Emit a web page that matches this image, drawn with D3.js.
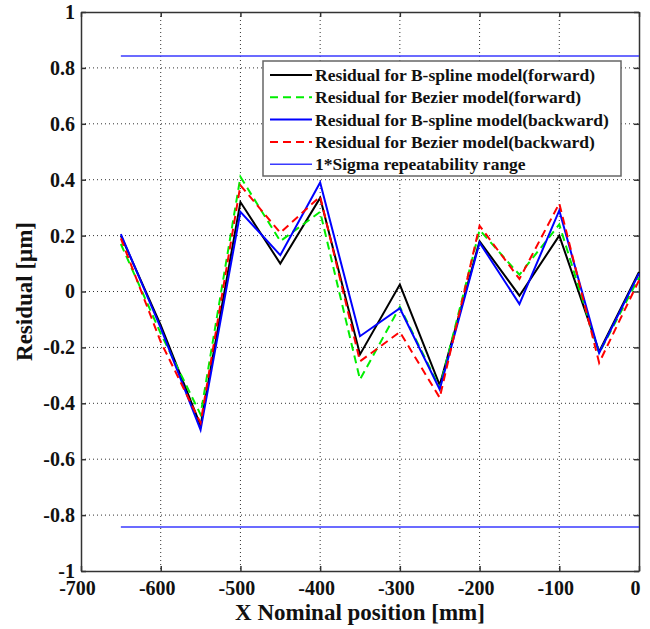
<!DOCTYPE html>
<html>
<head>
<meta charset="utf-8">
<script src="https://cdn.jsdelivr.net/npm/d3@7"></script>
<style>
    body { margin: 0; background: #fff; }
    text { font-family: "Liberation Serif", "DejaVu Serif", serif; font-weight: bold; fill: #111; }
</style>
</head>
<body>
<div id="chart"></div>
<script>
// Data
var xPositions = [-650, -600, -550, -500, -450, -400, -350, -300, -250, -200, -150, -100, -50, 0];
var bsplineForward = [0.20, -0.12, -0.48, 0.32, 0.10, 0.335, -0.225, 0.025, -0.335, 0.18, -0.015, 0.20, -0.215, 0.07];
var bezierForward = [0.17, -0.15, -0.44, 0.41, 0.18, 0.285, -0.315, -0.055, -0.345, 0.22, 0.06, 0.24, -0.22, 0.05];
var bsplineBackward = [0.205, -0.13, -0.495, 0.285, 0.13, 0.39, -0.16, -0.06, -0.35, 0.175, -0.045, 0.29, -0.22, 0.065];
var bezierBackward = [0.19, -0.18, -0.47, 0.38, 0.21, 0.34, -0.25, -0.145, -0.38, 0.235, 0.045, 0.315, -0.255, 0.04];
var sigmaRange = [-0.843, 0.843];
var sigmaX = [-650, 0];
var xTicks = [-700, -600, -500, -400, -300, -200, -100, 0];
var yTicks = [-1, -0.8, -0.6, -0.4, -0.2, 0, 0.2, 0.4, 0.6, 0.8, 1];
var legendLabels = [
    "Residual for B-spline model(forward)",
    "Residual for Bezier model(forward)",
    "Residual for B-spline model(backward)",
    "Residual for Bezier model(backward)",
    "1*Sigma repeatability range"
];

// Size and margins
var width = 650, height = 629;
var margin = { top: 12, right: 11, bottom: 58, left: 81 };
var plotW = width - margin.left - margin.right;
var plotH = height - margin.top - margin.bottom;

var svg = d3.select("#chart").append("svg")
    .attr("width", width)
    .attr("height", height);
var g = svg.append("g")
    .attr("transform", "translate(" + margin.left + "," + margin.top + ")");

// Scales
var x = d3.scaleLinear().domain([-700, 0]).range([0, plotW]);
var y = d3.scaleLinear().domain([-1, 1]).range([plotH, 0]);

// Dotted grid
g.append("g").selectAll("line")
    .data(xTicks.slice(1, -1))
    .enter().append("line")
    .attr("x1", function(d) { return x(d); })
    .attr("x2", function(d) { return x(d); })
    .attr("y1", 0).attr("y2", plotH)
    .attr("stroke", "#333").attr("stroke-width", 1)
    .attr("stroke-dasharray", "1,3");
g.append("g").selectAll("line")
    .data(yTicks.slice(1, -1))
    .enter().append("line")
    .attr("y1", function(d) { return y(d); })
    .attr("y2", function(d) { return y(d); })
    .attr("x1", 0).attr("x2", plotW)
    .attr("stroke", "#333").attr("stroke-width", 1)
    .attr("stroke-dasharray", "1,3");

// Axes (ticks inward, box on)
var fmt = function(d) { return String(d); };
var axB = g.append("g").attr("transform", "translate(0," + plotH + ")")
    .call(d3.axisBottom(x).tickValues(xTicks).tickFormat(fmt).tickSize(-5).tickSizeOuter(0).tickPadding(9));
var axT = g.append("g")
    .call(d3.axisTop(x).tickValues(xTicks).tickFormat("").tickSize(-5).tickSizeOuter(0));
var axL = g.append("g")
    .call(d3.axisLeft(y).tickValues(yTicks).tickFormat(fmt).tickSize(-5).tickSizeOuter(0).tickPadding(6));
var axR = g.append("g").attr("transform", "translate(" + plotW + ",0)")
    .call(d3.axisRight(y).tickValues(yTicks).tickFormat("").tickSize(-5).tickSizeOuter(0));
[axB, axT, axL, axR].forEach(function(a) {
    a.selectAll("path, line").attr("stroke", "#333").attr("stroke-width", 1.5);
    a.selectAll("text").style("font-size", "20px").attr("fill", "#111");
});
axB.selectAll("text").attr("dx", "-4").attr("dy", "0.75em");
axL.selectAll("text").attr("x", -6);

// Sigma lines
var sigmaColor = "#3a3aff";
sigmaRange.forEach(function(s) {
    g.append("line")
        .attr("x1", x(sigmaX[0])).attr("x2", x(sigmaX[1]))
        .attr("y1", y(s)).attr("y2", y(s))
        .attr("stroke", sigmaColor).attr("stroke-width", 1.5);
});

// Residual lines
var series = [
    { values: bsplineForward, color: "#000000", dash: null },
    { values: bezierForward, color: "#00ee00", dash: "8,5" },
    { values: bsplineBackward, color: "#0000ff", dash: null },
    { values: bezierBackward, color: "#ff0000", dash: "8,5" }
];
var line = d3.line()
    .x(function(d) { return x(d[0]); })
    .y(function(d) { return y(d[1]); });
series.forEach(function(s) {
    g.append("path")
        .attr("d", line(d3.zip(xPositions, s.values)))
        .attr("fill", "none")
        .attr("stroke", s.color)
        .attr("stroke-width", 2)
        .attr("stroke-dasharray", s.dash);
});

// Legend
var legend = svg.append("g").attr("transform", "translate(263,61)");
legend.append("rect")
    .attr("width", 358).attr("height", 115)
    .attr("fill", "#fff").attr("stroke", "#666").attr("stroke-width", 1.5);
var legendStyles = series.concat([{ color: sigmaColor, dash: null, thin: true }]);
legendLabels.forEach(function(label, i) {
    var ly = 14 + i * 22.3;
    legend.append("line")
        .attr("x1", 7).attr("x2", 49)
        .attr("y1", ly).attr("y2", ly)
        .attr("stroke", legendStyles[i].color)
        .attr("stroke-width", legendStyles[i].thin ? 1.5 : 2)
        .attr("stroke-dasharray", legendStyles[i].dash);
    legend.append("text")
        .attr("x", 52).attr("y", ly + 6)
        .style("font-size", "17.5px")
        .text(label);
});

// Axis labels
svg.append("text")
    .attr("x", margin.left + plotW / 2).attr("y", 620)
    .attr("text-anchor", "middle")
    .style("font-size", "23px")
    .text("X Nominal position [mm]");
svg.append("text")
    .attr("transform", "translate(32," + (margin.top + plotH / 2) + ") rotate(-90)")
    .attr("text-anchor", "middle")
    .style("font-size", "23px")
    .text("Residual [μm]");
</script>
</body>
</html>
